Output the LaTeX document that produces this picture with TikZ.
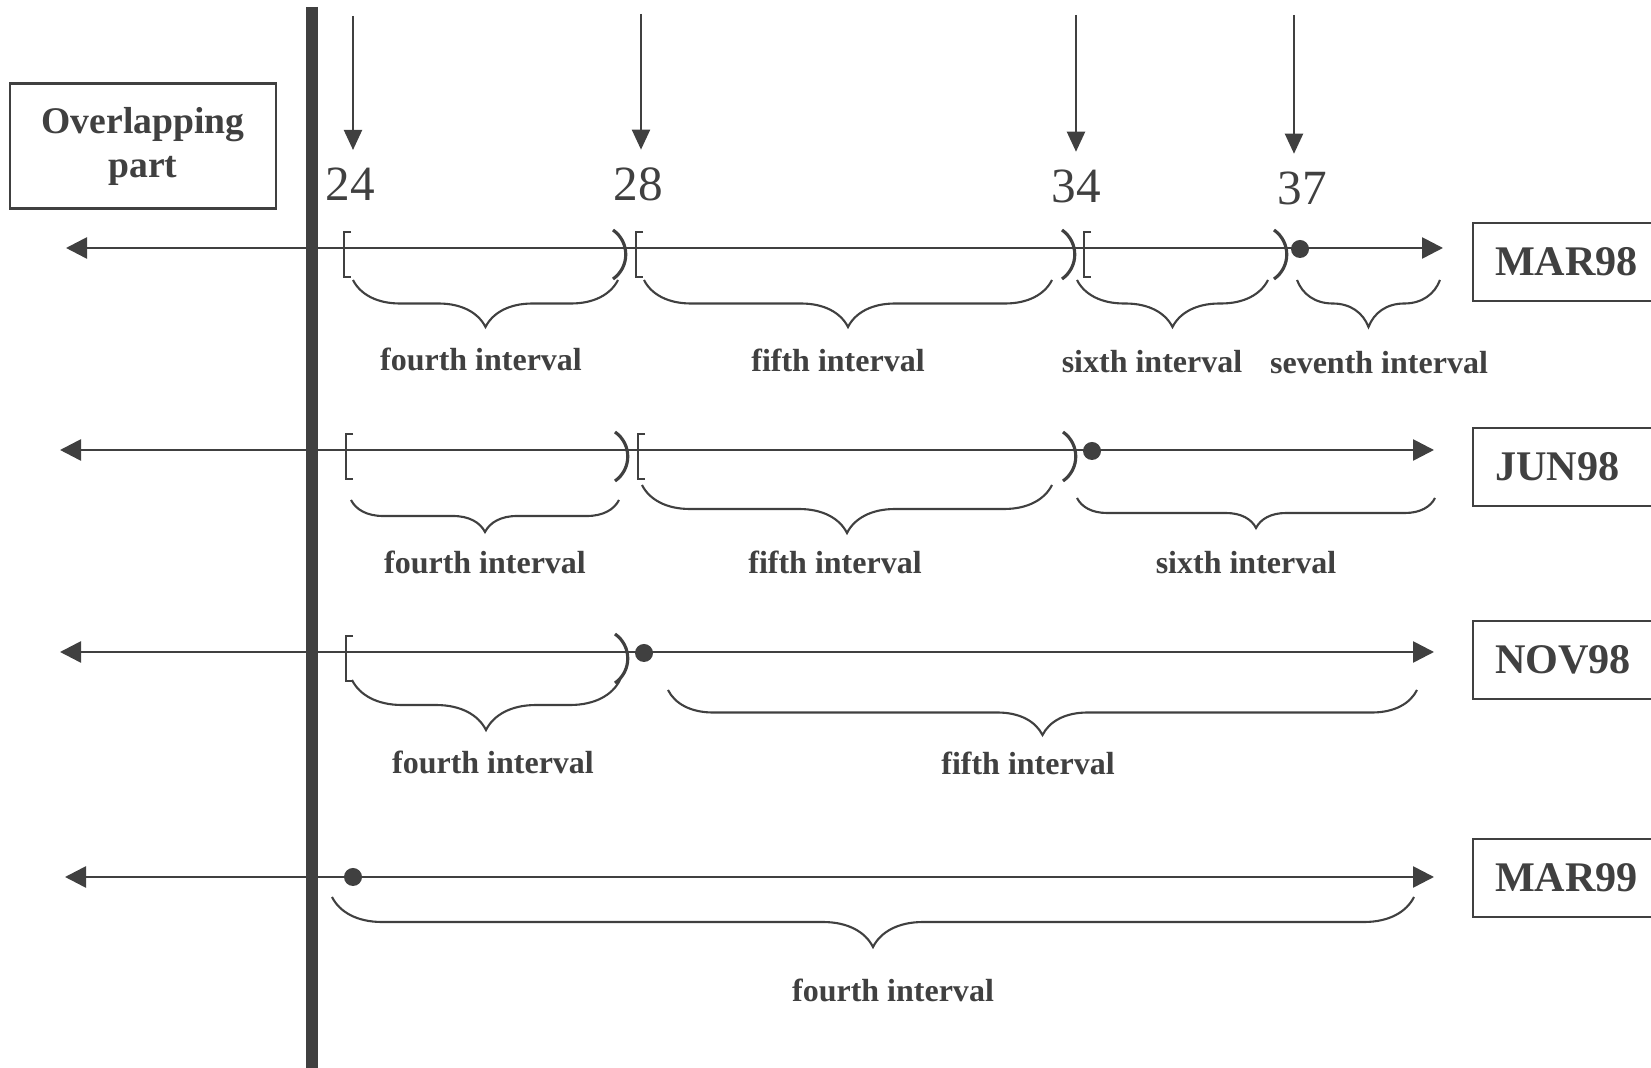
\documentclass[tikz,border=0pt]{standalone}
\usepackage{fontspec}
\setmainfont{Liberation Serif}
\usetikzlibrary{arrows.meta,decorations.pathreplacing,positioning}
\definecolor{ink}{HTML}{404040}
\begin{document}
\begin{tikzpicture}[x=0.01cm, y=-0.01cm, color=ink,
  num/.style={inner sep=0pt, font=\fontsize{14pt}{16pt}\selectfont},
  lbl/.style={inner sep=0pt, font=\bfseries\fontsize{9.1pt}{11pt}\selectfont},
  month/.style={draw, line width=0.6pt, anchor=west, minimum height=7.8mm, text width=16mm, inner xsep=2.2mm, font=\bfseries\fontsize{12pt}{14pt}\selectfont},
  tline/.style={{Triangle[length=2.1mm,width=2.1mm]}-{Triangle[length=2.1mm,width=2.1mm]}, line width=0.75pt},
  dn/.style={-{Triangle[length=2mm,width=1.8mm]}, line width=0.6pt, shorten >=1.7mm},
  brc/.style={decorate, decoration={brace, mirror, amplitude=#1}, line width=0.6pt},
  endpt/.style={circle, fill, inner sep=0pt, minimum size=1.8mm},
  pics/lbk/.style={code={\draw[line width=0.8pt] (7,-16) -- (0,-16) -- (0,29) -- (7,29);}},
  pics/rpn/.style={code={\draw[line width=0.9pt] (0,-18) .. controls (17,-6) and (17,19) .. (0,31);}}]
\useasboundingbox (0,0) rectangle (1651,1068);

% overlapping part and the cut
\node[draw, line width=0.6pt, minimum width=26.5mm, minimum height=12.5mm, align=center,
  font=\bfseries\fontsize{10.7pt}{12.5pt}\selectfont] (ovl) at (143,146) {Overlapping\\ part};
\draw[line width=1.2mm] (312,7) -- (312,1068);

% break points
\node[num] (n24) at (350,184) {24};
\node[num] (n28) at (638,184) {28};
\node[num] (n34) at (1076,186) {34};
\node[num] (n37) at (1302,188) {37};
\coordinate (t24) at (353,16);
\coordinate (t28) at (641,14);
\coordinate (t34) at (1076,15);
\coordinate (t37) at (1294,15);
\draw[dn] (t24) -- (t24 |- n24.north);
\draw[dn] (t28) -- (t28 |- n28.north);
\draw[dn] (t34) -- (t34 |- n34.north);
\draw[dn] (t37) -- (t37 |- n37.north);

% MAR98
\node[month] (mar98) at (1472,262) {MAR98};
\coordinate (l1) at (66,248);
\coordinate (r1) at (1443,248);
\draw[tline] (l1) -- (r1);
\pic at (344,248) {lbk};
\pic at (613,248) {rpn};
\pic at (636,248) {lbk};
\pic at (1062,248) {rpn};
\pic at (1084,248) {lbk};
\pic at (1274,248) {rpn};
\node[endpt] (d1) at (1300,249) {};
\draw[brc=4.7mm] (353,280) -- (618,280);
\draw[brc=4.7mm] (644,280) -- (1052,280);
\draw[brc=4.7mm] (1077,280) -- (1268,280);
\draw[brc=4.7mm] (1297,280) -- (1440,280);
\node[lbl] (a4) at (481,359) {fourth interval};
\node[lbl] (a5) at (838,360) {fifth interval};
\node[lbl] (a6) at (1152,362) {sixth interval};
\node[lbl] (a7) at (1379,363) {seventh interval};

% JUN98
\node[month] (jun98) at (1472,467) {JUN98};
\coordinate (l2) at (60,450);
\coordinate (r2) at (1434,450);
\draw[tline] (l2) -- (r2);
\pic at (346,450) {lbk};
\pic at (615,450) {rpn};
\pic at (638,450) {lbk};
\pic at (1063,450) {rpn};
\node[endpt] (d2) at (1092,451) {};
\draw[brc=3.2mm] (351,500) -- (619,500);
\draw[brc=4.8mm] (642,485) -- (1052,485);
\draw[brc=3mm] (1077,498) -- (1435,498);
\node[lbl] (b4) at (485,562) {fourth interval};
\node[lbl] (b5) at (835,562) {fifth interval};
\node[lbl] (b6) at (1246,563) {sixth interval};

% NOV98
\node[month] (nov98) at (1472,660) {NOV98};
\coordinate (l3) at (60,652);
\coordinate (r3) at (1434,652);
\draw[tline] (l3) -- (r3);
\pic at (346,652) {lbk};
\pic at (615,652) {rpn};
\node[endpt] (d3) at (644,653) {};
\draw[brc=5mm] (352,680) -- (620,680);
\draw[brc=4.5mm] (668,690) -- (1417,690);
\node[lbl] (c4) at (493,762) {fourth interval};
\node[lbl] (c5) at (1028,763) {fifth interval};

% MAR99
\node[month] (mar99) at (1472,878) {MAR99};
\coordinate (l4) at (65,877);
\coordinate (r4) at (1434,877);
\draw[tline] (l4) -- (r4);
\node[endpt] (d4) at (353,877) {};
\draw[brc=5mm] (332,897) -- (1414,897);
\node[lbl] (e4) at (893,990) {fourth interval};
\end{tikzpicture}
\end{document}
